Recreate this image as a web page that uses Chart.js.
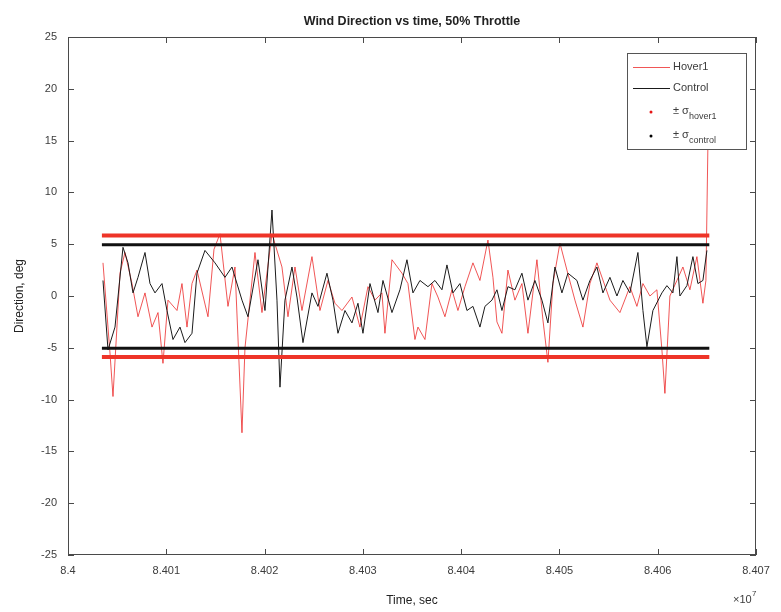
<!DOCTYPE html>
<html>
<head>
<meta charset="utf-8">
<script src="https://cdn.jsdelivr.net/npm/chart.js@4.4.1/dist/chart.umd.min.js"></script>
<style>
  html, body { margin: 0; padding: 0; background: #fff; }
  canvas { display: block; }
</style>
</head>
<body>
<canvas id="grafico" width="781" height="612"></canvas>
<script>
// datos (tiempo en s, dirección en grados)
const hoverTime = [84003561, 84004273, 84004578, 84005290, 84005799, 84006511, 84007121, 84007833, 84008545, 84009156,
  84009664, 84010173, 84011089, 84011597, 84012106, 84012615, 84013123, 84014242, 84014853, 84015463,
  84016277, 84016989, 84017701, 84018006, 84019024, 84019736, 84020753, 84021770, 84022381, 84023093,
  84023805, 84024822, 84025636, 84026450, 84027162, 84027874, 84028891, 84029705, 84030519, 84031231,
  84031943, 84032248, 84032961, 84033978, 84034588, 84035300, 84035606, 84036318, 84037030, 84037640,
  84038352, 84039064, 84039675, 84040387, 84041201, 84041913, 84042727, 84043235, 84043642, 84044151,
  84044761, 84045473, 84046185, 84046796, 84047711, 84048322, 84048830, 84049339, 84050051, 84050763,
  84051577, 84052391, 84053103, 84053815, 84055138, 84056155, 84057172, 84057884, 84058495, 84059207,
  84059919, 84060428, 84060733, 84061241, 84061954, 84062564, 84063276, 84063988, 84064599, 84064904,
  84065107];
const hoverDir = [3.2, -5.5, -9.7, 2.2, 4.2, 1.2, -2, 0.3, -3, -1.6,
  -6.5, -0.4, -1.4, 1.2, -3, 1.2, 2.5, -2, 4.5, 6,
  -1, 2.8, -13.2, -5, 4.2, -1.6, 6, 2.8, -2, 2.8,
  -1.4, 3.8, -1.4, 1.5, -0.7, -1.4, -0.1, -3, 0.9, -0.4,
  0.3, -3.6, 3.5, 2.2, 1.2, -4.2, -3, -4.2, 1.2, -0.1,
  -2, 0.6, -1.4, 0.9, 3.2, 1.5, 5.4, 1.8, -2.5, -3.6,
  2.5, -0.4, 1.2, -3.6, 3.5, -2.3, -6.4, 1.2, 5.1, 2.5,
  -0.4, -3, 1.2, 3.2, -0.4, -1.6, 0.9, -1, 1.2, 0,
  0.6, -5.2, -9.4, 0, 1.5, 2.8, 0.6, 3.8, -0.7, 1.5,
  14.6];

const controlTime = [84003561, 84004069, 84004781, 84005595, 84006104, 84006612, 84007121, 84007833, 84008342, 84008851,
  84009563, 84010071, 84010682, 84011394, 84011902, 84012615, 84013123, 84013937, 84014954, 84015972,
  84016684, 84017701, 84018311, 84019329, 84020041, 84020753, 84021262, 84021567, 84022075, 84022788,
  84023296, 84023907, 84024822, 84025433, 84026348, 84026958, 84027467, 84028179, 84028891, 84029502,
  84030010, 84030722, 84031536, 84032045, 84032961, 84033774, 84034486, 84035097, 84035809, 84036623,
  84037335, 84038047, 84038556, 84039166, 84039878, 84040590, 84041201, 84041913, 84042421, 84043134,
  84043642, 84044151, 84044761, 84045473, 84046185, 84046796, 84047508, 84048220, 84048830, 84049543,
  84050255, 84050865, 84051781, 84052391, 84053103, 84053815, 84054426, 84055138, 84055850, 84056460,
  84057172, 84057986, 84058495, 84058902, 84059512, 84060428, 84060936, 84061547, 84061954, 84062259,
  84062971, 84063581, 84064090, 84064599, 84065005];
const controlDir = [1.5, -5.2, -3, 4.7, 3.2, 0.3, 1.8, 4.2, 1.2, 0.3,
  1.2, -1.4, -4.2, -3, -4.5, -3.6, 2.2, 4.4, 3.2, 1.8,
  2.8, -0.4, -2, 3.5, -1.4, 8.3, -0.4, -8.8, -0.4, 2.8,
  -0.1, -4.5, 0.3, -1, 2.2, -0.4, -3.6, -1.4, -2.6, -0.7,
  -3.6, 1.2, -1.6, 1.5, -1.6, 0.6, 3.5, 0.3, 1.5, 0.9,
  1.5, 0.6, 3, 0.3, 1.2, -1.4, -1, -3, -1, -0.4,
  0.6, -1.4, 0.9, 0.6, 2.2, -0.4, 1.5, -0.4, -2.6, 2.8,
  0.3, 2.2, 1.5, -0.4, 1.5, 2.8, 0.3, 1.8, 0, 1.5,
  0.3, 4.2, -1.4, -4.9, -1.4, 0.3, 1, 0.3, 3.8, 0,
  1, 3.8, 1.2, 1.5, 4.4];

// bandas ±σ (superior, inferior) y su tramo en el tiempo
const sigmaSpan    = [84003450, 84065250];
const sigmaHover   = [5.85, -5.9];
const sigmaControl = [4.95, -5.05];

const xTicks = [84000000, 84070000, 10000];   // min, max, paso
const yTicks = [-25, 25, 5];

const ROJO  = "rgba(235, 30, 30, 0.75)";
const NEGRO = "#1a1a1a";
const ROJO_SIGMA  = "rgb(238, 52, 40)";
const NEGRO_SIGMA = "#111";
const GRIS_TXT = "#3c3c3c";
const FUENTE = "'Liberation Sans', Arial, Helvetica, sans-serif";

const pares = (ts, vs) => ts.map((t, i) => ({ x: t, y: vs[i] }));
const recta = v => sigmaSpan.map(t => ({ x: t, y: v }));

// caja estilo MATLAB, título, leyenda y el "x10^7"
const decoracion = {
  id: "decoracion",
  afterDraw(chart) {
    const { ctx, chartArea: a, scales } = chart;
    ctx.save();

    // caja con marcas hacia dentro
    ctx.strokeStyle = "#4a4a4a";
    ctx.lineWidth = 1;
    ctx.strokeRect(a.left + 0.5, a.top + 0.5, a.right - a.left - 1, a.bottom - a.top - 1);
    ctx.beginPath();
    scales.x.ticks.forEach(t => {
      const px = Math.round(scales.x.getPixelForValue(t.value)) + 0.5;
      ctx.moveTo(px, a.bottom); ctx.lineTo(px, a.bottom - 6);
      ctx.moveTo(px, a.top);    ctx.lineTo(px, a.top + 6);
    });
    scales.y.ticks.forEach(t => {
      const py = Math.round(scales.y.getPixelForValue(t.value)) + 0.5;
      ctx.moveTo(a.left, py);  ctx.lineTo(a.left + 6, py);
      ctx.moveTo(a.right, py); ctx.lineTo(a.right - 6, py);
    });
    ctx.stroke();

    // título
    ctx.fillStyle = "#222";
    ctx.font = `bold 12.5px ${FUENTE}`;
    ctx.textAlign = "center";
    ctx.textBaseline = "alphabetic";
    ctx.fillText("Wind Direction vs time, 50% Throttle", (a.left + a.right) / 2, 25);

    // multiplicador del eje x
    ctx.fillStyle = GRIS_TXT;
    ctx.textAlign = "left";
    ctx.font = `11px ${FUENTE}`;
    ctx.fillText("\u00d710", 733, 603);
    ctx.font = `8px ${FUENTE}`;
    ctx.fillText("7", 752, 596);

    // leyenda
    const lx = 627, ly = 53, lw = 119, lh = 96;
    ctx.fillStyle = "#fff";
    ctx.fillRect(lx, ly, lw, lh);
    ctx.strokeStyle = "#555";
    ctx.strokeRect(lx + 0.5, ly + 0.5, lw, lh);

    const filas = [
      { tipo: "linea", color: ROJO,  texto: "Hover1",  y: 67 },
      { tipo: "linea", color: NEGRO, texto: "Control", y: 88 },
      { tipo: "punto", color: "rgb(230,20,20)", texto: "hover1",  y: 112 },
      { tipo: "punto", color: "#000", texto: "control", y: 136 }
    ];
    filas.forEach(f => {
      ctx.textBaseline = "middle";
      if (f.tipo === "linea") {
        ctx.strokeStyle = f.color;
        ctx.lineWidth = 1;
        ctx.beginPath();
        ctx.moveTo(633, f.y + 0.5); ctx.lineTo(670, f.y + 0.5);
        ctx.stroke();
        ctx.fillStyle = GRIS_TXT;
        ctx.font = `11px ${FUENTE}`;
        ctx.fillText(f.texto, 673, f.y);
      } else {
        ctx.fillStyle = f.color;
        ctx.beginPath();
        ctx.arc(651, f.y, 1.5, 0, Math.PI * 2);
        ctx.fill();
        ctx.fillStyle = GRIS_TXT;
        ctx.font = `11px ${FUENTE}`;
        ctx.fillText("\u00b1 \u03c3", 673, f.y - 1);
        const w = ctx.measureText("\u00b1 \u03c3").width;
        ctx.font = `9px ${FUENTE}`;
        ctx.fillText(f.texto, 673 + w, f.y + 5);
      }
    });

    ctx.restore();
  }
};

const lineaBase = { pointRadius: 0, borderWidth: 1, tension: 0, fill: false };

new Chart(document.getElementById("grafico").getContext("2d"), {
  type: "line",
  data: {
    datasets: [
      { ...lineaBase, label: "Hover1",  data: pares(hoverTime, hoverDir),     borderColor: ROJO,  order: 3 },
      { ...lineaBase, label: "Control", data: pares(controlTime, controlDir), borderColor: NEGRO, order: 2 },
      { ...lineaBase, label: "\u00b1\u03c3 hover1",  data: recta(sigmaHover[0]),   borderColor: ROJO_SIGMA,  borderWidth: 4, order: 1 },
      { ...lineaBase, label: "\u00b1\u03c3 hover1",  data: recta(sigmaHover[1]),   borderColor: ROJO_SIGMA,  borderWidth: 4, order: 1 },
      { ...lineaBase, label: "\u00b1\u03c3 control", data: recta(sigmaControl[0]), borderColor: NEGRO_SIGMA, borderWidth: 3, order: 0 },
      { ...lineaBase, label: "\u00b1\u03c3 control", data: recta(sigmaControl[1]), borderColor: NEGRO_SIGMA, borderWidth: 3, order: 0 }
    ]
  },
  options: {
    responsive: false,
    animation: false,
    layout: { padding: { top: 37, right: 25, bottom: 0, left: 0 } },
    plugins: { legend: { display: false }, tooltip: { enabled: false }, title: { display: false } },
    scales: {
      x: {
        type: "linear",
        min: xTicks[0], max: xTicks[1],
        grid: { display: false, drawTicks: false },
        border: { display: false },
        ticks: {
          stepSize: xTicks[2], autoSkip: false, maxRotation: 0, padding: 9,
          color: GRIS_TXT, font: { family: FUENTE, size: 11 },
          callback: v => parseFloat((v / 1e7).toFixed(4)).toString()
        },
        title: { display: true, text: "Time, sec", color: "#222", font: { family: FUENTE, size: 12 }, padding: { top: 0, bottom: 4 } },
        afterFit(s) { s.height = 57; }
      },
      y: {
        min: yTicks[0], max: yTicks[1],
        grid: { display: false, drawTicks: false },
        border: { display: false },
        ticks: { stepSize: yTicks[2], padding: 11, color: GRIS_TXT, font: { family: FUENTE, size: 11 } },
        title: { display: true, text: "Direction, deg", color: "#222", font: { family: FUENTE, size: 12 }, padding: { top: 12, bottom: 0 } },
        afterFit(s) { s.width = 68; }
      }
    }
  },
  plugins: [decoracion]
});
</script>
</body>
</html>
